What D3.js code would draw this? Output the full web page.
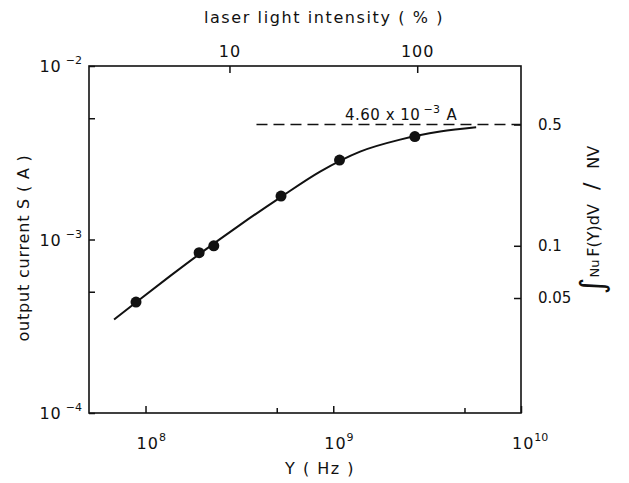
<!DOCTYPE html>
<html>
<head>
<meta charset="utf-8">
<script src="https://cdn.jsdelivr.net/npm/d3@7"></script>
<style>
  body { margin: 0; background: #fff; }
  text { font-family: "DejaVu Sans", sans-serif; fill: #111; }
</style>
</head>
<body>
<svg id="chart" width="629" height="483"></svg>
<script>
// measured points
const freqHz = [8.9e7, 1.93e8, 2.31e8, 5.27e8, 1.08e9, 2.72e9]
const currentA = [4.36e-4, 8.39e-4, 9.2e-4, 1.78e-3, 2.87e-3, 3.92e-3]

// drawn fit curve
const curveHz = [6.8e7, 9.35e7, 1.35e8, 1.95e8, 3.19e8, 5.21e8, 8.51e8, 1.39e9, 2.27e9, 3.71e9, 5.77e9]
const curveA = [3.46e-4, 4.53e-4, 6.15e-4, 8.29e-4, 1.215e-3, 1.744e-3, 2.462e-3, 3.211e-3, 3.765e-3, 4.187e-3, 4.432e-3]

const saturationA = 4.6e-3
const saturationFromHz = 3.9e8
const fullIntensityHz = 2.8e9   // 100 % laser light

const xMajorTicks = [1e8, 1e9, 1e10]
const xMinorTicks = [5e8, 5e9]
const yMajorTicks = [1e-2, 1e-3, 1e-4]
const yMinorTicks = [5e-3, 5e-4]
const fractionTicks = [0.5, 0.1, 0.05]
const intensityTicks = [10, 100]

const margin = {left: 89, right: 108, top: 66, bottom: 70}
const W = 629, H = 483
const x0 = margin.left, x1 = W - margin.right
const y0 = margin.top, y1 = H - margin.bottom

const svg = d3.select("#chart")

const x = d3.scaleLog().domain([5e7, 1e10]).range([x0, x1])
const y = d3.scaleLog().domain([1e-4, 1e-2]).range([y1, y0])
const xTop = d3.scaleLog()
    .domain(x.domain().map(v => v / fullIntensityHz * 100))
    .range([x0, x1])
const frac = d3.scaleLog()
    .domain(y.domain().map(v => v / (2 * saturationA)))
    .range([y1, y0])

function styleAxis(g) {
    g.select(".domain").remove()
    g.selectAll("line").attr("stroke", "#111").attr("stroke-width", 1.5)
}

// ticks (all pointing inward)
svg.append("g").attr("transform", `translate(0,${y1})`)
    .call(d3.axisBottom(x).tickValues(xMajorTicks).tickSize(-7).tickFormat(""))
    .call(styleAxis)
svg.append("g").attr("transform", `translate(0,${y1})`)
    .call(d3.axisBottom(x).tickValues(xMinorTicks).tickSize(-5).tickFormat(""))
    .call(styleAxis)
svg.append("g").attr("transform", `translate(${x0},0)`)
    .call(d3.axisLeft(y).tickValues(yMajorTicks.concat(yMinorTicks)).tickSize(-6).tickFormat(""))
    .call(styleAxis)
svg.append("g").attr("transform", `translate(0,${y0})`)
    .call(d3.axisTop(xTop).tickValues(intensityTicks).tickSize(-7).tickPadding(9).tickFormat(d3.format("d")))
    .call(styleAxis)
    .call(g => g.selectAll("text").attr("font-size", 16).attr("fill", "#111")
        .attr("font-family", "DejaVu Sans").attr("letter-spacing", 1))
svg.append("g").attr("transform", `translate(${x1},0)`)
    .call(d3.axisRight(frac).tickValues(fractionTicks).tickSize(-7).tickPadding(17).tickFormat(d => d))
    .call(styleAxis)
    .call(g => g.selectAll("text").attr("font-size", 15).attr("fill", "#111").attr("font-family", "DejaVu Sans"))

// frame
svg.append("rect")
    .attr("x", x0).attr("y", y0)
    .attr("width", x1 - x0).attr("height", y1 - y0)
    .attr("fill", "none").attr("stroke", "#111").attr("stroke-width", 1.6)

// power-of-ten labels
function powLabel(sel, base, exp, opts) {
    const t = sel.append("text")
        .attr("x", opts.x).attr("y", opts.y)
        .attr("text-anchor", opts.anchor)
        .attr("font-size", 16)
        .attr("letter-spacing", 1)
    t.append("tspan").text(base)
    t.append("tspan").attr("dy", -8).attr("dx", opts.gap || 0).attr("font-size", 11)
        .attr("letter-spacing", 0).text(exp)
    return t
}
yMajorTicks.forEach(v => {
    powLabel(svg, "10", "\u2212" + Math.round(-Math.log10(v)), {x: x0 - 7, y: y(v) + 6, anchor: "end", gap: 4})
})
xMajorTicks.forEach(v => {
    powLabel(svg, "10", Math.round(Math.log10(v)), {x: x(v) - 9, y: y1 + 36, anchor: "start"})
})

// saturation level
svg.append("line")
    .attr("x1", x(saturationFromHz)).attr("x2", x1)
    .attr("y1", y(saturationA)).attr("y2", y(saturationA))
    .attr("stroke", "#111").attr("stroke-width", 1.6)
    .attr("stroke-dasharray", "11,6")
const satLabel = svg.append("text")
    .attr("x", x(2.3e9)).attr("y", y(saturationA) - 5)
    .attr("text-anchor", "middle").attr("font-size", 15)
    .attr("letter-spacing", 0.5)
satLabel.append("tspan").text("4.60 x 10")
satLabel.append("tspan").attr("dy", -7).attr("dx", 3).attr("font-size", 11).text("\u22123")
satLabel.append("tspan").attr("dy", 7).attr("dx", 6).text("A")

// fitted curve
const curvePts = curveHz.map((f, i) => [f, curveA[i]])
svg.append("path")
    .datum(curvePts)
    .attr("fill", "none").attr("stroke", "#111").attr("stroke-width", 2)
    .attr("d", d3.line().x(d => x(d[0])).y(d => y(d[1])).curve(d3.curveMonotoneX))

// data points
svg.selectAll(".pt")
    .data(freqHz.map((f, i) => [f, currentA[i]]))
    .enter()
    .append("circle")
    .attr("class", "pt")
    .attr("cx", d => x(d[0])).attr("cy", d => y(d[1]))
    .attr("r", 5.5).attr("fill", "#111")

// axis titles
svg.append("text")
    .attr("x", 324).attr("y", 23)
    .attr("text-anchor", "middle").attr("font-size", 16)
    .attr("letter-spacing", 1.6)
    .text("laser light intensity  ( % )")

svg.append("text")
    .attr("x", 320).attr("y", 474)
    .attr("text-anchor", "middle").attr("font-size", 16)
    .attr("letter-spacing", 1.5)
    .text("Y  ( Hz )")

svg.append("text")
    .attr("transform", "translate(29,248) rotate(-90)")
    .attr("text-anchor", "middle").attr("font-size", 16)
    .attr("letter-spacing", 0.8)
    .text("output current  S   ( A )")

const rightLabel = svg.append("text")
    .attr("transform", "translate(599,220) rotate(-90)")
    .attr("text-anchor", "middle").attr("font-size", 16)
rightLabel.append("tspan").attr("font-size", 32).attr("dy", 4).text("\u222B")
rightLabel.append("tspan").attr("dy", -4).attr("font-size", 13).text("Nu")
rightLabel.append("tspan").attr("dx", 3).text("F(Y)dV")
rightLabel.append("tspan").attr("font-size", 22).attr("dx", 14).text("/")
rightLabel.append("tspan").attr("dx", 14).text("NV")
</script>
</body>
</html>
